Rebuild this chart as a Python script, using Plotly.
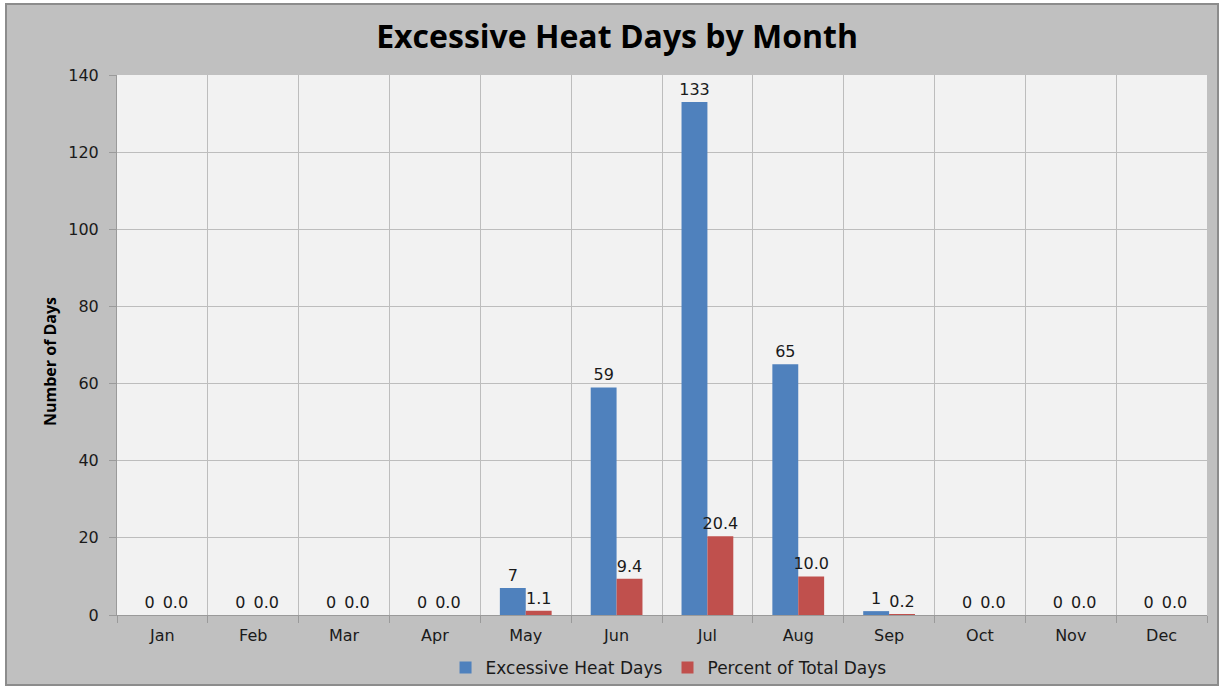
import plotly.graph_objects as go

months = ["Jan", "Feb", "Mar", "Apr", "May", "Jun", "Jul", "Aug", "Sep", "Oct", "Nov", "Dec"]
heat_days = [0, 0, 0, 0, 7, 59, 133, 65, 1, 0, 0, 0]
pct_total = [0.0, 0.0, 0.0, 0.0, 1.1, 9.4, 20.4, 10.0, 0.2, 0.0, 0.0, 0.0]
y_ticks = [0, 20, 40, 60, 80, 100, 120, 140]

W, H = 1222, 689
ML, MR, MT, MB = 117, 15, 75, 74
pw, ph = W - ML - MR, H - MT - MB

def px_x(x):
    return (x - ML) / pw

def px_y(y):
    return (H - MB - y) / ph

label_font = dict(family="DejaVu Sans", size=16, color="#1a1a1a")

fig = go.Figure()
fig.add_trace(go.Bar(
    x=months, y=heat_days, name="Excessive Heat Days",
    marker=dict(color="#4f81bd", line=dict(width=0)),
    text=[f"{v:d}" for v in heat_days], textposition="outside",
    textangle=0, constraintext="none",
    textfont=label_font, cliponaxis=False,
))
fig.add_trace(go.Bar(
    x=months, y=pct_total, name="Percent of Total Days",
    marker=dict(color="#c0504d", line=dict(width=0)),
    text=[f"{v:.1f}" for v in pct_total], textposition="outside",
    textangle=0, constraintext="none",
    textfont=label_font, cliponaxis=False,
))

fig.update_layout(
    width=W, height=H,
    margin=dict(l=ML, r=MR, t=MT, b=MB, autoexpand=False),
    paper_bgcolor="#ffffff",
    plot_bgcolor="#f2f2f2",
    barmode="group", bargap=0.43, bargroupgap=0,
    title=dict(text="<b>Excessive Heat Days by Month</b>", x=0.505, xref="container",
               y=1 - 37 / H, yanchor="middle",
               font=dict(family="Open Sans", size=32, color="#000000")),
    legend=dict(orientation="h", x=0.506, xanchor="center", y=px_y(668), yanchor="middle",
                font=dict(family="DejaVu Sans", size=17, color="#1a1a1a"),
                bgcolor="rgba(0,0,0,0)", itemwidth=30),
    annotations=[
        dict(text="<b>Number of Days</b>", textangle=-90, showarrow=False,
             xref="paper", yref="paper", x=px_x(50), y=px_y(362),
             xanchor="center", yanchor="middle",
             font=dict(family="Open Sans", size=16, color="#000000")),
    ],
    shapes=[
        dict(type="rect", xref="paper", yref="paper", layer="below",
             x0=px_x(6), x1=px_x(1218), y0=px_y(685), y1=px_y(4),
             fillcolor="#c0c0c0", line=dict(color="#8c8c8c", width=2)),
        dict(type="rect", xref="paper", yref="paper", layer="below",
             x0=0, x1=1, y0=0, y1=1, fillcolor="#f2f2f2", line=dict(width=0)),
    ],
)

fig.update_xaxes(
    type="category", tickson="boundaries",
    showgrid=True, gridcolor="#bdbdbd", gridwidth=1,
    ticks="outside", ticklen=7, tickcolor="#9a9a9a", ticklabelstandoff=6,
    showline=True, linecolor="#9a9a9a", linewidth=1,
    tickfont=dict(family="DejaVu Sans", size=16, color="#1a1a1a"),
)
fig.update_yaxes(
    range=[0, 140], tickvals=y_ticks,
    showgrid=True, gridcolor="#bdbdbd", gridwidth=1,
    ticks="outside", ticklen=7, tickcolor="#9a9a9a", ticklabelstandoff=7,
    showline=True, linecolor="#9a9a9a", linewidth=1, zeroline=False,
    tickfont=dict(family="DejaVu Sans", size=16, color="#1a1a1a"),
)

fig.write_html("out.html")
